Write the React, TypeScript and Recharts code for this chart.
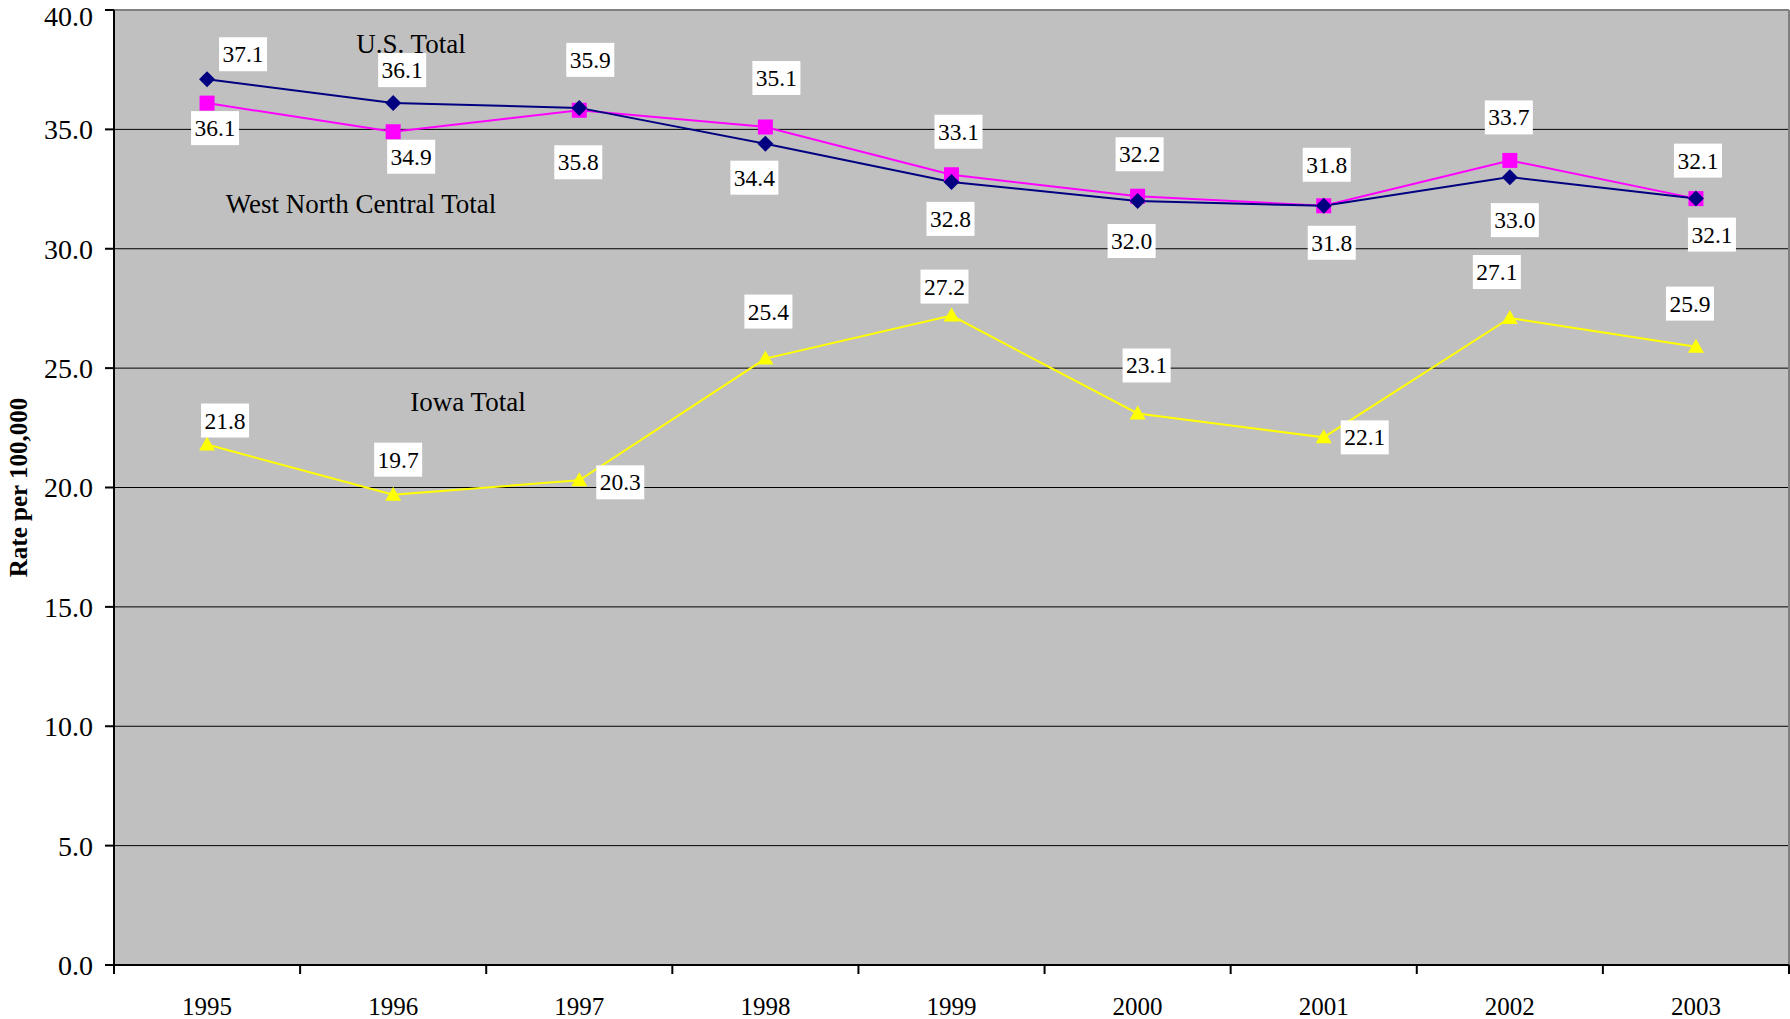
import React from 'react';
import { LineChart, Line, XAxis, YAxis, CartesianGrid, LabelList, Customized } from 'recharts';

const years = ['1995', '1996', '1997', '1998', '1999', '2000', '2001', '2002', '2003'];
const usTotal = [37.1, 36.1, 35.9, 34.4, 32.8, 32.0, 31.8, 33.0, 32.1];
const wncTotal = [36.1, 34.9, 35.8, 35.1, 33.1, 32.2, 31.8, 33.7, 32.1];
const iowaTotal = [21.8, 19.7, 20.3, 25.4, 27.2, 23.1, 22.1, 27.1, 25.9];
const yTicks = [0, 5, 10, 15, 20, 25, 30, 35, 40];

// label box offsets from each point, in px [dx, dy]
const usLabelOffsets = [[36, -25], [9, -33], [11, -48], [-11, 34], [-1, 37], [-6, 40], [8, 37], [5, 43], [16, 36]];
const wncLabelOffsets = [[8, 25], [18, 25], [-1, 52], [11, -49], [7, -43], [2, -42], [3, -41], [-1, -43], [2, -38]];
const iowaLabelOffsets = [[18, -24], [5, -35], [41, 2], [3, -47], [-7, -29], [9, -48], [41, 0], [-13, -46], [-6, -43]];

const data = years.map((year, i) => ({
  year,
  us: usTotal[i],
  wnc: wncTotal[i],
  iowa: iowaTotal[i],
}));

const W = 1790;
const H = 1019;
const LEFT = 114;
const RIGHT = 1789;
const TOP = 10;
const BOTTOM = 965;
const BAND = (RIGHT - LEFT) / years.length;
const FONT = 'Liberation Serif, Times New Roman, Times, serif';

const makeLabel = (offsets: number[][]) => (props: any) => {
  const px = props.x ?? props.viewBox?.x;
  const py = props.y ?? props.viewBox?.y;
  const [dx, dy] = offsets[props.index] || [0, -30];
  const cx = px + dx;
  const cy = py + dy;
  return (
    <g>
      <rect x={cx - 24} y={cy - 17} width={48} height={34} fill="#fff" />
      <text x={cx} y={cy} dy="0.34em" textAnchor="middle" fill="#000" style={{ fontFamily: FONT, fontSize: 23.5 }}>
        {Number(props.value).toFixed(1)}
      </text>
    </g>
  );
};

const diamond = (props: any) => {
  const { cx, cy, index } = props;
  const r = 8;
  return <polygon key={`d-${index}`} points={`${cx},${cy - r} ${cx + r},${cy} ${cx},${cy + r} ${cx - r},${cy}`} fill="#000080" />;
};

const square = (props: any) => {
  const { cx, cy, index } = props;
  return <rect key={`s-${index}`} x={cx - 7.5} y={cy - 7.5} width={15} height={15} fill="#FF00FF" />;
};

const triangle = (props: any) => {
  const { cx, cy, index } = props;
  return <polygon key={`t-${index}`} points={`${cx},${cy - 8} ${cx + 8},${cy + 6} ${cx - 8},${cy + 6}`} fill="#FFFF00" />;
};

const XTick = (props: any) => {
  const { x, payload, index } = props;
  const left = x - BAND / 2;
  return (
    <g>
      <line x1={left} x2={left} y1={BOTTOM} y2={BOTTOM + 9} stroke="#000" strokeWidth={2} />
      {index === years.length - 1 && (
        <line x1={x + BAND / 2} x2={x + BAND / 2} y1={BOTTOM} y2={BOTTOM + 9} stroke="#000" strokeWidth={2} />
      )}
      <text x={x} y={1015} textAnchor="middle" fill="#000" style={{ fontFamily: FONT, fontSize: 25 }}>
        {payload.value}
      </text>
    </g>
  );
};

const Overlay = () => (
  <g style={{ fontFamily: FONT }} fill="#000">
    <line x1={LEFT} x2={RIGHT} y1={TOP} y2={TOP} stroke="#808080" strokeWidth={2} />
    <line x1={RIGHT} x2={RIGHT} y1={TOP} y2={BOTTOM} stroke="#808080" strokeWidth={2} />
    <text x={411} y={53} textAnchor="middle" fontSize={27}>U.S. Total</text>
    <text x={361} y={213} textAnchor="middle" fontSize={27}>West North Central Total</text>
    <text x={468} y={411} textAnchor="middle" fontSize={27}>Iowa Total</text>
    <text
      x={27}
      y={(TOP + BOTTOM) / 2}
      transform={`rotate(-90 27 ${(TOP + BOTTOM) / 2})`}
      textAnchor="middle"
      fontSize={25}
      fontWeight="bold"
    >
      Rate per 100,000
    </text>
  </g>
);

export default function App() {
  return (
    <div style={{ position: 'absolute', left: 0, top: 0, width: W, height: H, background: '#fff', fontFamily: FONT }}>
      <LineChart
        width={W}
        height={H}
        data={data}
        margin={{ top: TOP, right: W - RIGHT, bottom: 0, left: 0 }}
        style={{ fontFamily: FONT }}
      >
        <CartesianGrid vertical={false} stroke="#000" strokeWidth={1} fill="#C0C0C0" fillOpacity={1} />
        <XAxis
          dataKey="year"
          scale="band"
          height={H - BOTTOM}
          axisLine={{ stroke: '#000', strokeWidth: 2 }}
          tickLine={false}
          tick={<XTick />}
          interval={0}
        />
        <YAxis
          domain={[0, 40]}
          ticks={yTicks}
          width={LEFT}
          tickFormatter={(v: number) => v.toFixed(1)}
          axisLine={{ stroke: '#000', strokeWidth: 2 }}
          tickLine={{ stroke: '#000', strokeWidth: 2 }}
          tickSize={9}
          tickMargin={12}
          tick={{ fill: '#000', fontSize: 28, style: { fontFamily: FONT } }}
        />
        <Line dataKey="iowa" stroke="#FFFF00" strokeWidth={2} dot={triangle} isAnimationActive={false}>
          <LabelList dataKey="iowa" content={makeLabel(iowaLabelOffsets)} />
        </Line>
        <Line dataKey="wnc" stroke="#FF00FF" strokeWidth={2} dot={square} isAnimationActive={false}>
          <LabelList dataKey="wnc" content={makeLabel(wncLabelOffsets)} />
        </Line>
        <Line dataKey="us" stroke="#000080" strokeWidth={2} dot={diamond} isAnimationActive={false}>
          <LabelList dataKey="us" content={makeLabel(usLabelOffsets)} />
        </Line>
        <Customized component={Overlay} />
      </LineChart>
    </div>
  );
}
